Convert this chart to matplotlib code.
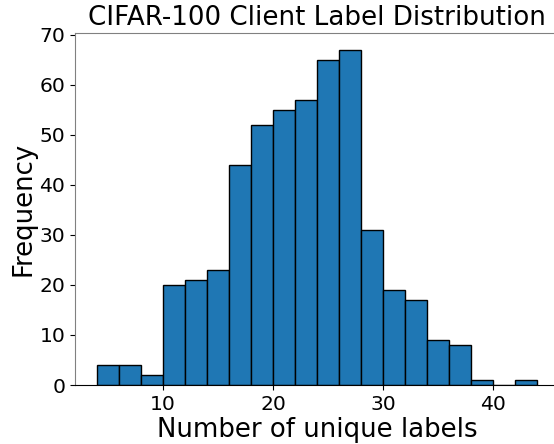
import numpy as np
import matplotlib
matplotlib.use('Agg')
import matplotlib.pyplot as plt

# histogram: bin edges 4..44 step 2
bin_edges = list(range(4, 45, 2))
counts = [4, 4, 2, 20, 21, 23, 44, 52, 55, 57, 65, 67, 31, 19, 17, 9, 8, 1, 0, 1]

W, H = 554, 444
fig = plt.figure(figsize=(W / 100, H / 100), dpi=100)
ax = fig.add_axes([75 / W, (H - 385) / H, 484 / W, 352 / H])

centers = np.array(bin_edges[:-1]) + 1
ax.hist(centers, bins=bin_edges, weights=counts, color='#1f77b4', edgecolor='black')

ax.set_title('CIFAR-100 Client Label Distribution', fontsize=18.8)
ax.set_xlabel('Number of unique labels', fontsize=18.7, labelpad=2)
ax.set_ylabel('Frequency', fontsize=18.7, labelpad=2)
ax.tick_params(labelsize=14.6)
ax.set_yticks(range(0, 71, 10))

ax.spines['right'].set_visible(False)
ax.spines['left'].set_color('grey')
ax.spines['top'].set_color('grey')
ax.spines['bottom'].set_color('black')

fig.savefig('out.png', dpi=100)
